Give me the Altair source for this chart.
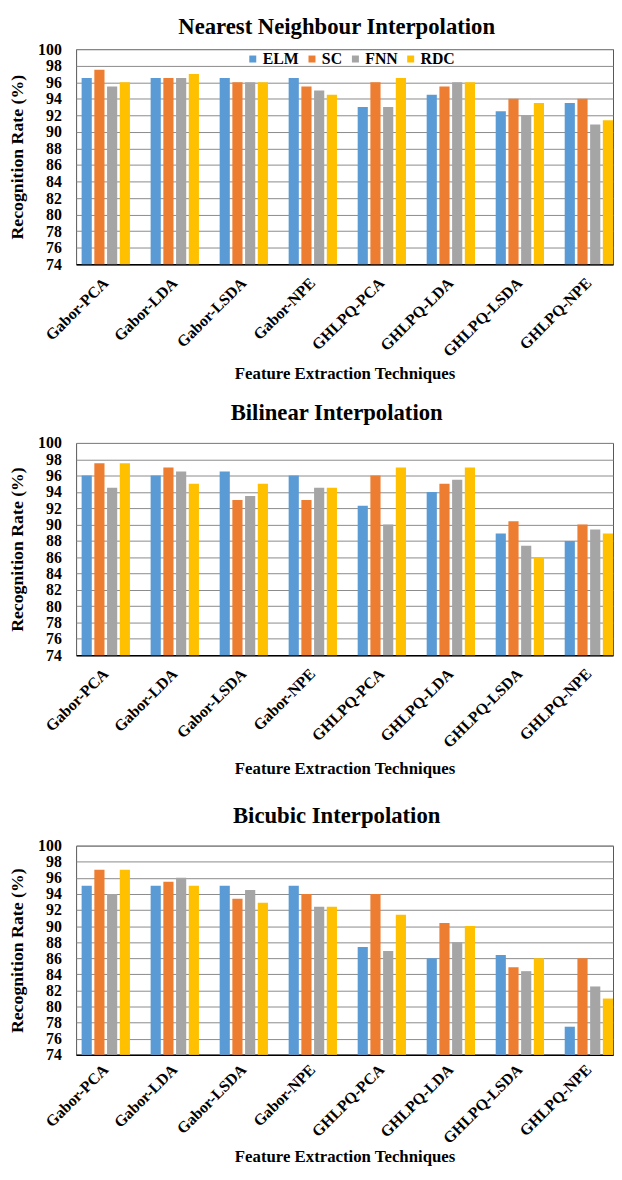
import altair as alt
import pandas as pd

categories = ["Gabor-PCA", "Gabor-LDA", "Gabor-LSDA", "Gabor-NPE",
              "GHLPQ-PCA", "GHLPQ-LDA", "GHLPQ-LSDA", "GHLPQ-NPE"]
methods = ["ELM", "SC", "FNN", "RDC"]
colors = ["#5B9BD5", "#ED7D31", "#A5A5A5", "#FFC000"]

# Nearest Neighbour Interpolation
nn_elm = [96.5, 96.5, 96.5, 96.5, 93.0, 94.5, 92.5, 93.5]
nn_sc = [97.5, 96.5, 96.0, 95.5, 96.0, 95.5, 94.0, 94.0]
nn_fnn = [95.5, 96.5, 96.0, 95.0, 93.0, 96.0, 92.0, 90.9]
nn_rdc = [96.0, 97.0, 96.0, 94.5, 96.5, 96.0, 93.5, 91.4]

# Bilinear Interpolation
bl_elm = [96.0, 96.0, 96.5, 96.0, 92.3, 94.0, 88.9, 88.0]
bl_sc = [97.5, 97.0, 93.0, 93.0, 96.0, 95.0, 90.4, 90.0]
bl_fnn = [94.5, 96.5, 93.5, 94.5, 90.0, 95.5, 87.4, 89.4]
bl_rdc = [97.5, 95.0, 95.0, 94.5, 97.0, 97.0, 86.0, 88.9]

# Bicubic Interpolation
bc_elm = [95.0, 95.0, 95.0, 95.0, 87.4, 86.0, 86.4, 77.5]
bc_sc = [97.0, 95.5, 93.4, 94.0, 94.0, 90.4, 84.9, 86.0]
bc_fnn = [94.0, 96.0, 94.5, 92.4, 86.9, 88.0, 84.4, 82.5]
bc_rdc = [97.0, 95.0, 92.9, 92.4, 91.4, 90.0, 86.0, 81.0]

y_ticks = list(range(74, 101, 2))
SERIF = "Liberation Serif"
PLOT_W = 544


def long_df(series):
    rows = []
    for m, vals in zip(methods, series):
        for c, v in zip(categories, vals):
            rows.append({"Technique": c, "Method": m, "Rate": v})
    return pd.DataFrame(rows)


def panel(series, title, height, title_offset, xlabel_pad, xtitle_pad):
    df = long_df(series)
    return alt.Chart(df).mark_bar().encode(
        x=alt.X("Technique:N", sort=categories,
                scale=alt.Scale(paddingInner=0.3, paddingOuter=0.04, align=1),
                axis=alt.Axis(title="Feature  Extraction  Techniques",
                              labelAngle=-45, labelAlign="right",
                              labelBaseline="middle",
                              labelFont=SERIF, labelFontWeight="bold",
                              labelFontSize=16, labelColor="#000",
                              labelPadding=xlabel_pad,
                              titleFont=SERIF, titleFontWeight="bold",
                              titleFontSize=17, titleColor="#000",
                              titlePadding=xtitle_pad,
                              ticks=False, domainColor="#000",
                              domainWidth=1.5, grid=False)),
        xOffset=alt.XOffset("Method:N", sort=methods,
                            scale=alt.Scale(paddingInner=0.2, paddingOuter=0)),
        y=alt.Y("Rate:Q",
                scale=alt.Scale(domain=[74, 100], nice=False, zero=False),
                axis=alt.Axis(title="Recognition  Rate  (%)", values=y_ticks,
                              labelFont=SERIF, labelFontWeight="bold",
                              labelFontSize=16, labelColor="#000",
                              labelPadding=15, ticks=False, domain=False,
                              titleFont=SERIF, titleFontWeight="bold",
                              titleFontSize=18, titleColor="#000",
                              titlePadding=11,
                              gridColor="#8a8a8a", gridWidth=1)),
        y2=alt.datum(74),
        color=alt.Color("Method:N", sort=methods,
                        scale=alt.Scale(domain=methods, range=colors),
                        legend=alt.Legend(orient="none", legendX=171,
                                          legendY=2, direction="horizontal",
                                          title=None, symbolType="square",
                                          symbolSize=50, symbolStrokeWidth=0,
                                          labelFont=SERIF,
                                          labelFontWeight="bold",
                                          labelFontSize=16, labelColor="#000",
                                          columnPadding=5, labelOffset=2)),
    ).properties(
        width=PLOT_W, height=height,
        title=alt.TitleParams(title, font=SERIF, fontWeight="bold",
                              fontSize=23, color="#000", offset=title_offset,
                              anchor="middle", dx=-8),
    )


p1 = panel([nn_elm, nn_sc, nn_fnn, nn_rdc], "Nearest Neighbour Interpolation",
           218, 2, 16, 6)
p2 = panel([bl_elm, bl_sc, bl_fnn, bl_rdc], "Bilinear Interpolation",
           215, 10, 16, 10)
p3 = panel([bc_elm, bc_sc, bc_fnn, bc_rdc], "Bicubic Interpolation",
           212, 10, 12, 3)

top = alt.vconcat(p1, p2, spacing=20)
chart = alt.vconcat(top, p3, spacing=28).properties(padding=0).configure_view(
    stroke="#555", strokeWidth=1
)

chart.save("out.html", embed_options={"renderer": "svg", "actions": False})
